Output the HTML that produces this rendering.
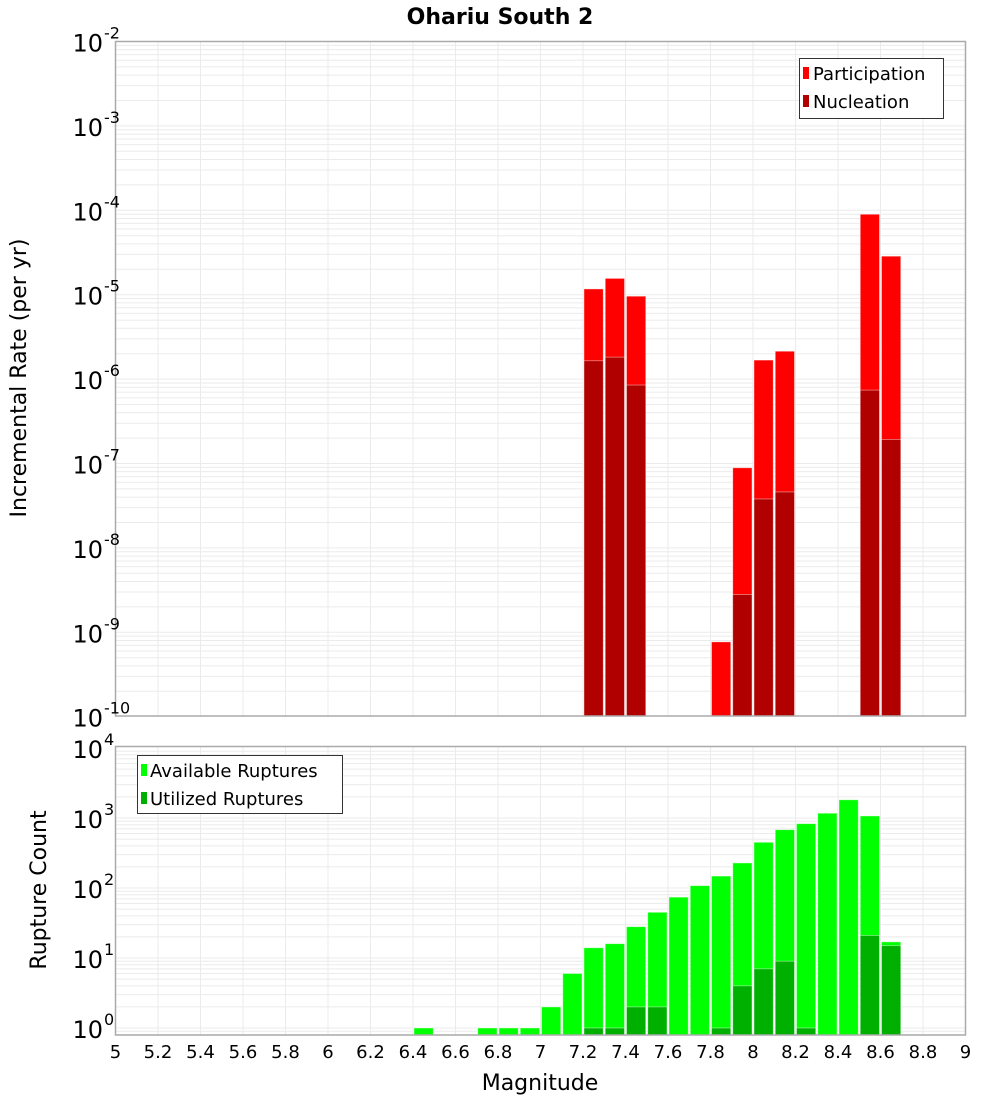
<!DOCTYPE html>
<html><head><meta charset="utf-8"><style>
body{margin:0;background:#fff}
svg{display:block;font-family:"DejaVu Sans","Liberation Sans",sans-serif}
</style></head><body>
<svg id="chart" width="1000" height="1100" viewBox="0 0 1000 1100" xmlns="http://www.w3.org/2000/svg">
<text x="500" y="24" text-anchor="middle" font-size="22" font-weight="bold">Ohariu South 2</text>
<g id="topg"></g><g id="botg"></g><g id="xaxis"></g>
<text x="540" y="1090" text-anchor="middle" font-size="22">Magnitude</text>
<text transform="translate(26,378) rotate(-90)" text-anchor="middle" font-size="22">Incremental Rate (per yr)</text>
<text transform="translate(46,890) rotate(-90)" text-anchor="middle" font-size="22">Rupture Count</text>
<g>
<rect x="799.5" y="58.5" width="144" height="60" fill="#fff" stroke="#333"/>
<rect x="803" y="67" width="6" height="12" fill="#ff0000"/>
<text x="813" y="80" font-size="18">Participation</text>
<rect x="803" y="95" width="6" height="12" fill="#b00000"/>
<text x="813" y="108" font-size="18">Nucleation</text>
</g>
<g>
<rect x="137.5" y="755.5" width="205" height="58" fill="#fff" stroke="#333"/>
<rect x="141" y="764" width="6" height="12" fill="#00ff00"/>
<text x="150" y="777" font-size="18">Available Ruptures</text>
<rect x="141" y="792" width="6" height="12" fill="#00b000"/>
<text x="150" y="805" font-size="18">Utilized Ruptures</text>
</g>
</svg>
<script>
const rateBins=[7.2,7.3,7.4,7.8,7.9,8.0,8.1,8.5,8.6];
const participation=[1.17e-5,1.56e-5,9.6e-6,7.7e-10,8.9e-8,1.68e-6,2.14e-6,8.98e-5,2.86e-5];
const nucleation=[1.65e-6,1.82e-6,8.5e-7,0,2.8e-9,3.8e-8,4.6e-8,7.4e-7,1.93e-7];
const countBins=[6.4,6.7,6.8,6.9,7.0,7.1,7.2,7.3,7.4,7.5,7.6,7.7,7.8,7.9,8.0,8.1,8.2,8.3,8.4,8.5,8.6];
const available=[1,1,1,1,2,6,14,16,28,45,74,108,148,228,450,680,830,1170,1820,1070,17];
const utilized=[0,0,0,0,0,0,1,1,2,2,0,0,1,4,7,9,1,0,0,21,15];
const xTicks=[5,5.2,5.4,5.6,5.8,6,6.2,6.4,6.6,6.8,7,7.2,7.4,7.6,7.8,8,8.2,8.4,8.6,8.8,9];
const topExps=[-2,-3,-4,-5,-6,-7,-8,-9,-10];
const botExps=[4,3,2,1,0];

const NS="http://www.w3.org/2000/svg";
const L=115.5,R=965.5;
const xs=m=>L+(m-5)*(R-L)/4;
const yTop=v=>41.5+(-2-Math.log10(v))*84.4;
const yBot=v=>1028-Math.log10(v)*70;
function mk(tag,attrs,parent){const e=document.createElementNS(NS,tag);for(const k in attrs)e.setAttribute(k,attrs[k]);parent.appendChild(e);return e;}

function panel(g,y0,y1,yf,lo,hi){
  mk('rect',{x:L,y:y0,width:R-L,height:y1-y0,fill:'#fff'},g);
  for(let e=lo;e<hi;e++)for(let k=1;k<10;k++){const yy=yf(k*Math.pow(10,e));if(yy>=y0&&yy<=y1)mk('line',{x1:L,x2:R,y1:yy,y2:yy,stroke:'#ebebeb','stroke-width':1},g);}
  xTicks.forEach(t=>mk('line',{x1:xs(t),x2:xs(t),y1:y0,y2:y1,stroke:'#ebebeb','stroke-width':1},g));
}
function frame(g,y0,y1){mk('rect',{x:L,y:y0,width:R-L,height:y1-y0,fill:'none',stroke:'#aaa','stroke-width':1.5},g);}
function bars(g,bins,vals,yf,base,color,name){
  bins.forEach((b,i)=>{const v=vals[i];if(!(v>0))return;const yy=yf(v);
    const r=mk('rect',{x:xs(b)+1,y:yy,width:(R-L)/40-2,height:base-yy,fill:color,stroke:'#fff','stroke-opacity':0.5,'stroke-width':0.8},g);
    
    });
}
function yLab(g,exps,yf){
  exps.forEach(e=>{const yy=yf(Math.pow(10,e));
    const t=mk('text',{x:103,y:yy+10,'text-anchor':'end','font-size':24},g);
    
    
    t.textContent='10';
    const s=mk('text',{x:104,y:yy-3,'font-size':16},g);
    
    
    s.textContent=String(e);});
}
const topG=document.getElementById('topg'),botG=document.getElementById('botg'),xa=document.getElementById('xaxis');
panel(topG,41.5,716,yTop,-10,-2);
bars(topG,rateBins,participation,yTop,716,'#ff0000','participation-bar');
bars(topG,rateBins,nucleation,yTop,716,'#b00000','nucleation-bar');
frame(topG,41.5,716);
panel(botG,746.5,1035,yBot,-1,4);
bars(botG,countBins,available,yBot,1035,'#00ff00','available-bar');
bars(botG,countBins,utilized,yBot,1035,'#00b000','utilized-bar');
frame(botG,746.5,1035);
yLab(topG,topExps,yTop);
yLab(botG,botExps,yBot);
xTicks.forEach(t=>{const tx=mk('text',{x:xs(t),y:1058,'text-anchor':'middle','font-size':18},xa);
  
  
  tx.textContent=String(t);});
</script>
</body></html>
